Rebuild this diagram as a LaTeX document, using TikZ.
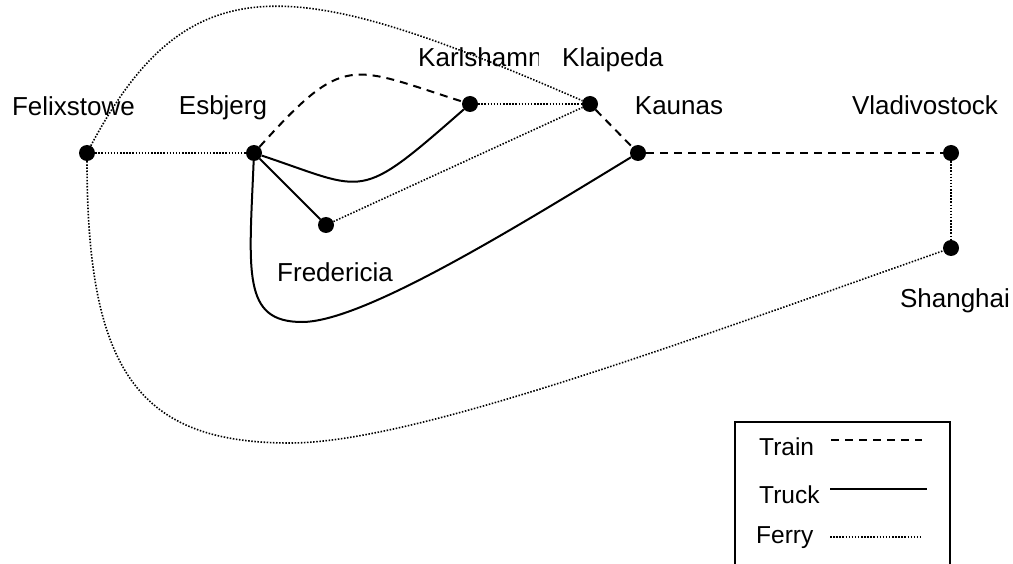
\documentclass[tikz,border=0pt]{standalone}
\usepackage{fontspec}
\setmainfont{Liberation Sans}
\begin{document}
\begin{tikzpicture}[x=1pt,y=-1pt,
  city/.style={circle,fill=black,inner sep=0pt,minimum size=16pt},
  lbl/.style={font=\fontsize{26}{30}\selectfont,inner sep=0pt,anchor=base},
  leg/.style={font=\fontsize{24.5}{28}\selectfont,inner sep=0pt,anchor=base west},
  train/.style={line width=2pt,dash pattern=on 8pt off 6pt},
  truck/.style={line width=2pt},
  ferry/.style={line width=1.6pt,dash pattern=on 1.5pt off 1.6pt},
  legbox/.style={line width=2pt}]
\clip (0,0) rectangle (1013,564);
\fill[white] (0,0) rectangle (1013,564);
% cities
\node[city] (fel) at (87,153) {};
\node[city] (esb) at (254,153) {};
\node[city] (kar) at (470,104) {};
\node[city] (kla) at (590,104) {};
\node[city] (kau) at (638,153) {};
\node[city] (vla) at (951,153) {};
\node[city] (sha) at (951,248) {};
\node[city] (fre) at (326,225) {};
% labels
\node[lbl] (lfel) at (73.5,116) {Felixstowe};
\node[lbl] (lesb) at (223,115) {Esbjerg};
\begin{scope}
\clip (0,0) rectangle (538,564);
\node[lbl,anchor=base west] (lkar) at (418,67) {Karlshamn};
\end{scope}
\node[lbl,anchor=base west] (lkla) at (562,67) {Klaipeda};
\node[lbl] (lkau) at (679,115) {Kaunas};
\node[lbl] (lvla) at (925,115) {Vladivostock};
\node[lbl] (lfre) at (335,282) {Fredericia};
\node[lbl] (lsha) at (955,308) {Shanghai};
% ferry
\draw[ferry] (fel) -- (esb);
\draw[ferry] (kar) -- (kla);
\draw[ferry] (fre) -- (kla);
\draw[ferry] (vla) -- (sha);
\draw[ferry] (fel) .. controls (190,-41) and (296,-24) .. (kla);
\draw[ferry] (fel) .. controls (87,373) and (140,443) .. (290,443)
                   .. controls (410,443) and (668,348) .. (sha);
% train
\draw[train] (esb) .. controls (345,52) and (350,66) .. (kar);
\draw[train] (kla) -- (kau);
\draw[train] (kau) -- (vla);
% truck
\draw[truck] (esb) -- (fre);
\draw[truck] (esb) .. controls (368,191) and (357,203) .. (kar);
\draw[truck] (esb) .. controls (249,273) and (242,322) .. (302,322)
                   .. controls (362,322) and (510,231) .. (kau);
% legend
\draw[legbox] (735,422) rectangle (950,590);
\node[leg] (ltrain) at (759,455) {Train};
\node[leg] (ltruck) at (759,503) {Truck};
\node[leg] (lferry) at (756,543) {Ferry};
\coordinate (tr1) at (831,440); \coordinate (tr2) at (922,440);
\coordinate (tk1) at (830,489); \coordinate (tk2) at (927,489);
\coordinate (fe1) at (830,537); \coordinate (fe2) at (923,537);
\draw[train] (tr1) -- (tr2);
\draw[truck] (tk1) -- (tk2);
\draw[ferry] (fe1) -- (fe2);
\end{tikzpicture}
\end{document}
